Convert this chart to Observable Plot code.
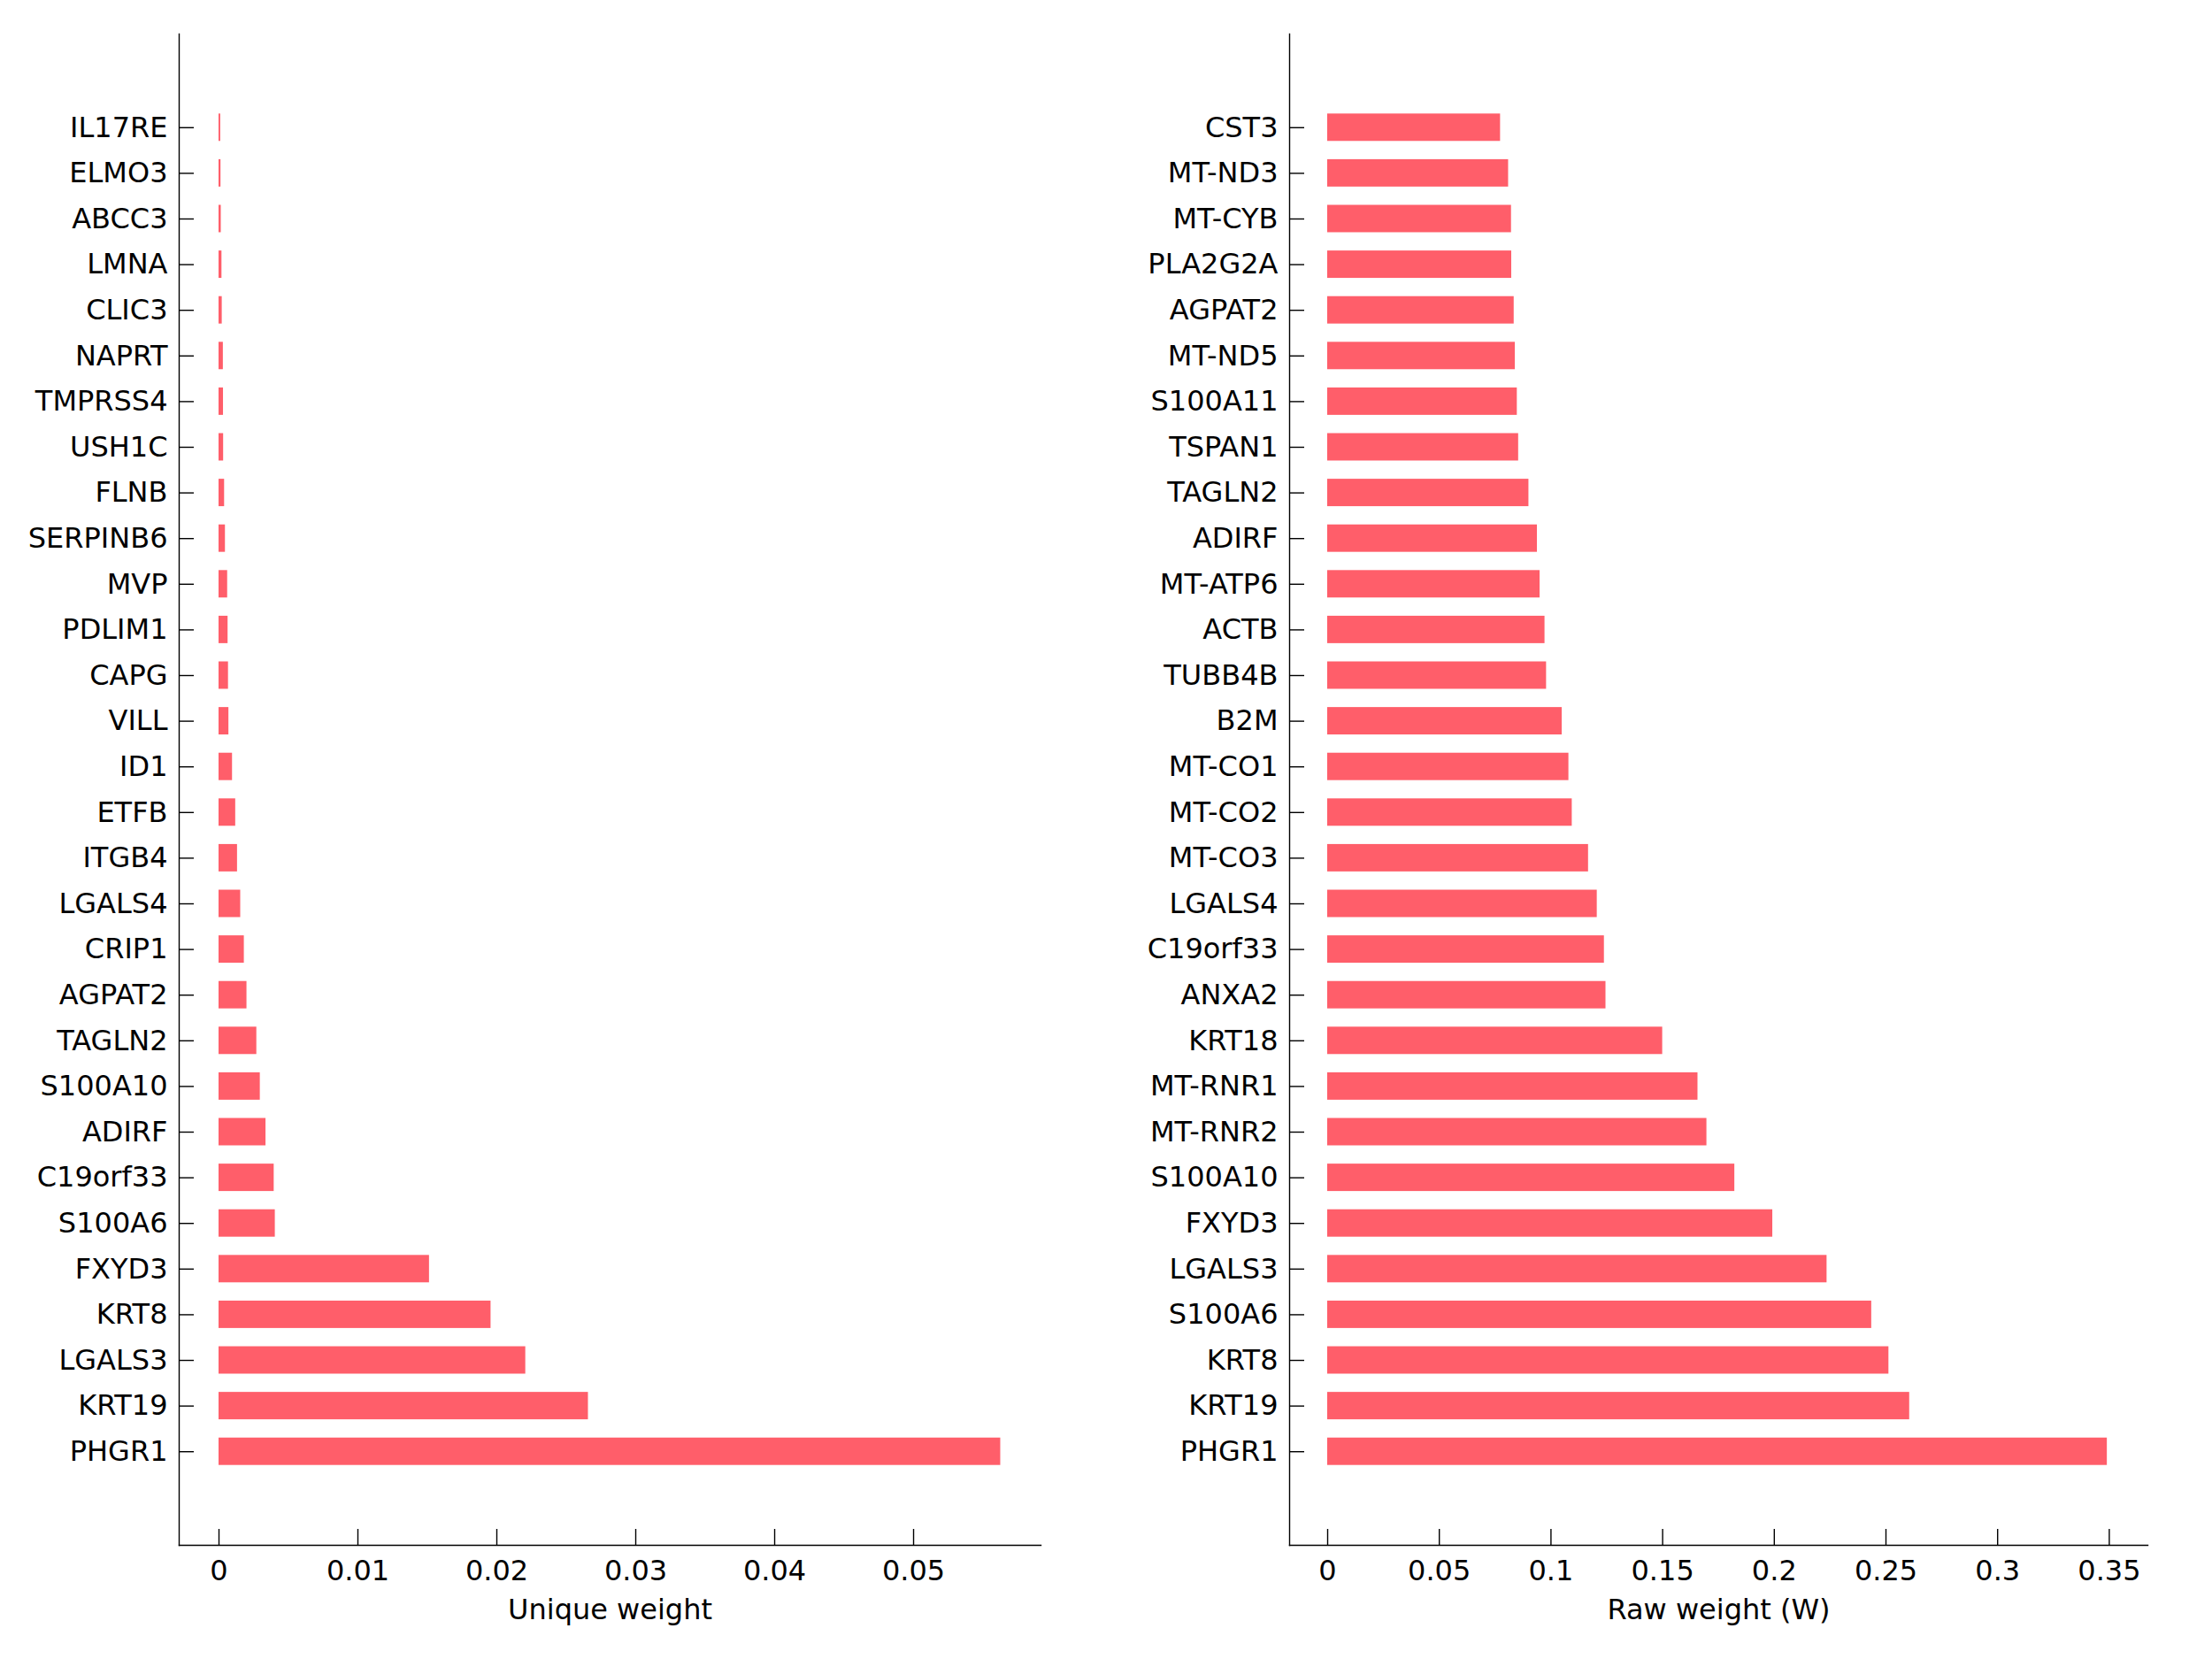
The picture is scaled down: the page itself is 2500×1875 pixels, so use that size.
<!DOCTYPE html>
<html>
<head>
<meta charset="utf-8">
<script src="https://cdn.jsdelivr.net/npm/d3@7"></script>
<script src="https://cdn.jsdelivr.net/npm/@observablehq/plot@0.6"></script>
<style>
  html, body { margin: 0; padding: 0; background: white; }
  #wrap { display: flex; width: 2500px; height: 1875px; background: white; }
</style>
</head>
<body>
<div id="wrap"></div>
<script>
// Left panel: unique weight
const uniqueGenes = ["IL17RE","ELMO3","ABCC3","LMNA","CLIC3","NAPRT","TMPRSS4","USH1C","FLNB","SERPINB6",
  "MVP","PDLIM1","CAPG","VILL","ID1","ETFB","ITGB4","LGALS4","CRIP1","AGPAT2",
  "TAGLN2","S100A10","ADIRF","C19orf33","S100A6","FXYD3","KRT8","LGALS3","KRT19","PHGR1"];
const uniqueValues = [0.00012,0.00014,0.00016,0.00021,0.00023,0.00031,0.00032,0.00033,0.0004,0.00046,
  0.00062,0.00065,0.00068,0.00071,0.00097,0.0012,0.00133,0.00156,0.00182,0.00201,
  0.00272,0.00297,0.00338,0.00397,0.00405,0.01515,0.01958,0.02208,0.02659,0.05627];
const uniqueTicks = [0, 0.01, 0.02, 0.03, 0.04, 0.05];

// Right panel: raw weight
const rawGenes = ["CST3","MT-ND3","MT-CYB","PLA2G2A","AGPAT2","MT-ND5","S100A11","TSPAN1","TAGLN2","ADIRF",
  "MT-ATP6","ACTB","TUBB4B","B2M","MT-CO1","MT-CO2","MT-CO3","LGALS4","C19orf33","ANXA2",
  "KRT18","MT-RNR1","MT-RNR2","S100A10","FXYD3","LGALS3","S100A6","KRT8","KRT19","PHGR1"];
const rawValues = [0.0774,0.0810,0.0823,0.0824,0.0835,0.0840,0.0849,0.0855,0.0901,0.0939,
  0.0951,0.0973,0.0980,0.1050,0.1080,0.1095,0.1168,0.1207,0.1239,0.1246,
  0.1500,0.1658,0.1698,0.1823,0.1993,0.2236,0.2436,0.2513,0.2606,0.3491];
const rawTicks = [0, 0.05, 0.1, 0.15, 0.2, 0.25, 0.3, 0.35];

const FONT = "DejaVu Sans, Lato, sans-serif";
const BAR = "#ff5e6a";
const fmt = d3.format("~g");

function panel({genes, values, ticks, xDomain, marginLeft, marginRight, label}) {
  const data = genes.map((g, i) => ({gene: g, value: values[i]}));
  return Plot.plot({
    width: 1250,
    height: 1875,
    marginTop: 38,
    marginBottom: 129,
    marginLeft,
    marginRight,
    style: {fontFamily: FONT, fontSize: "32px", color: "black", background: "white", overflow: "visible"},
    x: {domain: xDomain, ticks, tickFormat: fmt},
    y: {domain: genes, paddingInner: 0.4, paddingOuter: 1.75, round: false},
    marks: [
      Plot.barX(data, {x: "value", y: "gene", fill: BAR}),
      Plot.frame({anchor: "left", stroke: "black", strokeWidth: 1.4}),
      Plot.frame({anchor: "bottom", stroke: "black", strokeWidth: 1.4}),
      Plot.axisY({tickSize: -17, tickPadding: 30, stroke: "black", strokeWidth: 1.4, fill: "black", label: null}),
      Plot.axisX({ticks, tickFormat: fmt, tickSize: -18, tickPadding: 35, stroke: "black", strokeWidth: 1.4, fill: "black",
        label, labelArrow: "none", labelAnchor: "center", labelOffset: 83})
    ]
  });
}

const wrap = document.getElementById("wrap");
wrap.appendChild(panel({genes: uniqueGenes, values: uniqueValues, ticks: uniqueTicks,
  xDomain: [-0.002866, 0.05917], marginLeft: 202, marginRight: 74, label: "Unique weight"}));
wrap.appendChild(panel({genes: rawGenes, values: rawValues, ticks: rawTicks,
  xDomain: [-0.01704, 0.36727], marginLeft: 207, marginRight: 73, label: "Raw weight (W)"}));
</script>
</body>
</html>
